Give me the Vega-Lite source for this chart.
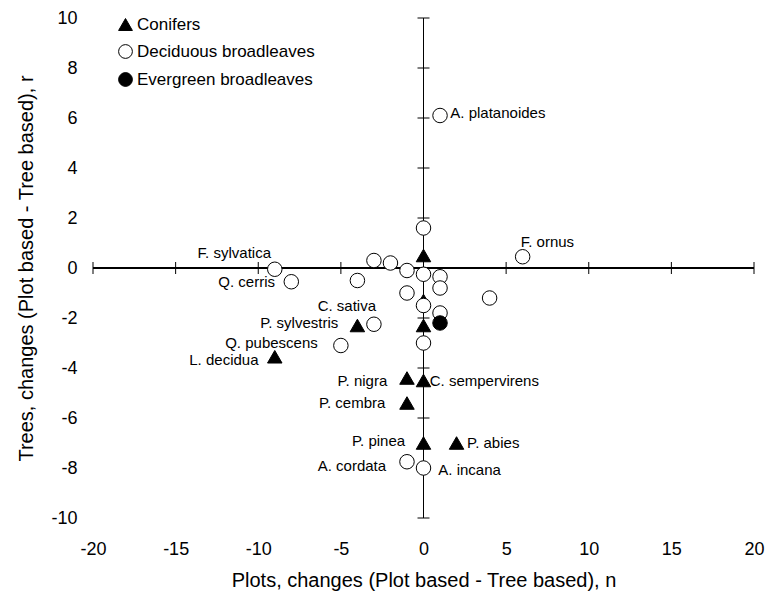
{
  "$schema": "https://vega.github.io/schema/vega-lite/v6.json",
  "width": 661,
  "height": 500,
  "autosize": {"type": "none"},
  "padding": {"left": 93, "top": 18, "right": 24, "bottom": 79},
  "background": "white",
  "config": {
    "view": {"stroke": null},
    "font": "Liberation Sans",
    "axis": {
      "domain": false,
      "ticks": false,
      "grid": false,
      "labelColor": "black",
      "titleColor": "black",
      "titleFontWeight": "normal",
      "labelFlush": false,
      "labelOverlap": false,
      "labelFontSize": 18,
      "titleFontSize": 20
    },
    "axisX": {"labelPadding": 22, "titlePadding": 12},
    "axisY": {"labelPadding": 16, "titlePadding": 14}
  },
  "datasets": {
    "points": [
      {"n": 0, "r": 0.5, "group": "Conifers"},
      {"n": 0, "r": -1.3, "group": "Conifers"},
      {"n": 0, "r": -2.3, "group": "Conifers"},
      {"n": -4, "r": -2.3, "group": "Conifers"},
      {"n": -9, "r": -3.55, "group": "Conifers"},
      {"n": -1, "r": -4.4, "group": "Conifers"},
      {"n": 0, "r": -4.5, "group": "Conifers"},
      {"n": -1, "r": -5.4, "group": "Conifers"},
      {"n": 0, "r": -7, "group": "Conifers"},
      {"n": 2, "r": -7, "group": "Conifers"},
      {"n": 1, "r": 6.1, "group": "Deciduous broadleaves"},
      {"n": 0, "r": 1.6, "group": "Deciduous broadleaves"},
      {"n": 6, "r": 0.45, "group": "Deciduous broadleaves"},
      {"n": -3, "r": 0.3, "group": "Deciduous broadleaves"},
      {"n": -2, "r": 0.2, "group": "Deciduous broadleaves"},
      {"n": -1, "r": -0.1, "group": "Deciduous broadleaves"},
      {"n": 0, "r": -0.25, "group": "Deciduous broadleaves"},
      {"n": 1, "r": -0.35, "group": "Deciduous broadleaves"},
      {"n": -9, "r": -0.05, "group": "Deciduous broadleaves"},
      {"n": -8, "r": -0.55, "group": "Deciduous broadleaves"},
      {"n": -4, "r": -0.5, "group": "Deciduous broadleaves"},
      {"n": 1, "r": -0.8, "group": "Deciduous broadleaves"},
      {"n": -1, "r": -1, "group": "Deciduous broadleaves"},
      {"n": 4, "r": -1.2, "group": "Deciduous broadleaves"},
      {"n": 0, "r": -1.5, "group": "Deciduous broadleaves"},
      {"n": 1, "r": -1.8, "group": "Deciduous broadleaves"},
      {"n": -3, "r": -2.25, "group": "Deciduous broadleaves"},
      {"n": -5, "r": -3.1, "group": "Deciduous broadleaves"},
      {"n": 0, "r": -3, "group": "Deciduous broadleaves"},
      {"n": -1, "r": -7.75, "group": "Deciduous broadleaves"},
      {"n": 0, "r": -8, "group": "Deciduous broadleaves"},
      {"n": 1, "r": -2.2, "group": "Evergreen broadleaves"}
    ],
    "labels": [
      {"n": 4.5, "r": 6.19, "label": "A. platanoides"},
      {"n": 7.5, "r": 1.03, "label": "F. ornus"},
      {"n": -11.45, "r": 0.61, "label": "F. sylvatica"},
      {"n": -10.7, "r": -0.56, "label": "Q. cerris"},
      {"n": -4.64, "r": -1.52, "label": "C. sativa"},
      {"n": -7.52, "r": -2.19, "label": "P. sylvestris"},
      {"n": -9.2, "r": -2.99, "label": "Q. pubescens"},
      {"n": -12.08, "r": -3.68, "label": "L. decidua"},
      {"n": -3.7, "r": -4.51, "label": "P. nigra"},
      {"n": 3.68, "r": -4.51, "label": "C. sempervirens"},
      {"n": -4.32, "r": -5.41, "label": "P. cembra"},
      {"n": -2.72, "r": -6.93, "label": "P. pinea"},
      {"n": 4.22, "r": -7.0, "label": "P. abies"},
      {"n": -4.33, "r": -7.92, "label": "A. cordata"},
      {"n": 2.79, "r": -8.08, "label": "A. incana"}
    ],
    "xticks": [
      {"v": -20}, {"v": -15}, {"v": -10}, {"v": -5}, {"v": 0},
      {"v": 5}, {"v": 10}, {"v": 15}, {"v": 20}
    ],
    "yticks": [
      {"v": -10}, {"v": -8}, {"v": -6}, {"v": -4}, {"v": -2}, {"v": 0},
      {"v": 2}, {"v": 4}, {"v": 6}, {"v": 8}, {"v": 10}
    ]
  },
  "layer": [
    {
      "data": {"name": "xticks"},
      "mark": {"type": "rule", "color": "black", "strokeWidth": 1},
      "encoding": {
        "x": {"datum": 0, "type": "quantitative", "title": "Plots, changes (Plot based - Tree based), n",
              "axis": {"values": [-20, -15, -10, -5, 0, 5, 10, 15, 20], "labelExpr": "datum.value + ''"}}
      }
    },
    {
      "data": {"name": "yticks"},
      "mark": {"type": "rule", "color": "black", "strokeWidth": 1},
      "encoding": {
        "y": {"datum": 0, "type": "quantitative", "title": "Trees, changes (Plot based - Tree based), r",
              "axis": {"values": [-10, -8, -6, -4, -2, 0, 2, 4, 6, 8, 10], "labelExpr": "datum.value + ''"}}
      }
    },
    {
      "data": {"name": "xticks"},
      "mark": {"type": "tick", "orient": "vertical", "size": 12, "thickness": 1, "color": "black", "opacity": 1},
      "encoding": {
        "x": {"field": "v", "type": "quantitative", "title": "Plots, changes (Plot based - Tree based), n",
              "axis": {"values": [-20, -15, -10, -5, 0, 5, 10, 15, 20], "labelExpr": "datum.value + ''"}},
        "y": {"datum": 0, "type": "quantitative", "title": "Trees, changes (Plot based - Tree based), r",
              "axis": {"values": [-10, -8, -6, -4, -2, 0, 2, 4, 6, 8, 10], "labelExpr": "datum.value + ''"}}
      }
    },
    {
      "data": {"name": "yticks"},
      "mark": {"type": "tick", "orient": "horizontal", "size": 12, "thickness": 1, "color": "black", "opacity": 1},
      "encoding": {
        "y": {"field": "v", "type": "quantitative", "title": "Trees, changes (Plot based - Tree based), r",
              "axis": {"values": [-10, -8, -6, -4, -2, 0, 2, 4, 6, 8, 10], "labelExpr": "datum.value + ''"}},
        "x": {"datum": 0, "type": "quantitative", "title": "Plots, changes (Plot based - Tree based), n",
              "axis": {"values": [-20, -15, -10, -5, 0, 5, 10, 15, 20], "labelExpr": "datum.value + ''"}}
      }
    },
    {
      "data": {"name": "points"},
      "mark": {"type": "point", "filled": true, "stroke": "black", "strokeWidth": 1, "opacity": 1, "size": 210},
      "encoding": {
        "x": {
          "field": "n", "type": "quantitative",
          "scale": {"domain": [-20, 20], "nice": false},
          "title": "Plots, changes (Plot based - Tree based), n",
          "axis": {"values": [-20, -15, -10, -5, 0, 5, 10, 15, 20], "labelExpr": "datum.value + ''"}
        },
        "y": {
          "field": "r", "type": "quantitative",
          "scale": {"domain": [-10, 10], "nice": false},
          "title": "Trees, changes (Plot based - Tree based), r",
          "axis": {"values": [-10, -8, -6, -4, -2, 0, 2, 4, 6, 8, 10], "labelExpr": "datum.value + ''"}
        },
        "shape": {
          "field": "group", "type": "nominal",
          "scale": {"domain": ["Conifers", "Deciduous broadleaves", "Evergreen broadleaves"], "range": ["triangle-up", "circle", "circle"]},
          "legend": {
            "title": null, "orient": "none", "legendX": 24, "legendY": -2,
            "labelFontSize": 17, "labelColor": "black", "labelLimit": 400, "symbolSize": 190,
            "symbolStrokeColor": "black", "symbolStrokeWidth": 1, "symbolOpacity": 1,
            "labelOffset": 3, "rowPadding": 9, "padding": 0,
            "encode": {"symbols": {"update": {"stroke": {"value": "black"}, "strokeWidth": {"value": 1}}}}
          }
        },
        "fill": {
          "field": "group", "type": "nominal",
          "scale": {"domain": ["Conifers", "Deciduous broadleaves", "Evergreen broadleaves"], "range": ["black", "white", "black"]},
          "legend": {
            "title": null, "orient": "none", "legendX": 24, "legendY": -2,
            "labelFontSize": 17, "labelColor": "black", "labelLimit": 400, "symbolSize": 190,
            "symbolStrokeColor": "black", "symbolStrokeWidth": 1, "symbolOpacity": 1,
            "labelOffset": 3, "rowPadding": 9, "padding": 0,
            "encode": {"symbols": {"update": {"stroke": {"value": "black"}, "strokeWidth": {"value": 1}}}}
          }
        }
      }
    },
    {
      "data": {"name": "labels"},
      "mark": {"type": "text", "fontSize": 15, "align": "center", "baseline": "middle", "color": "black"},
      "encoding": {
        "x": {"field": "n", "type": "quantitative", "title": "Plots, changes (Plot based - Tree based), n",
              "axis": {"values": [-20, -15, -10, -5, 0, 5, 10, 15, 20], "labelExpr": "datum.value + ''"}},
        "y": {"field": "r", "type": "quantitative", "title": "Trees, changes (Plot based - Tree based), r",
              "axis": {"values": [-10, -8, -6, -4, -2, 0, 2, 4, 6, 8, 10], "labelExpr": "datum.value + ''"}},
        "text": {"field": "label", "type": "nominal"}
      }
    }
  ]
}
